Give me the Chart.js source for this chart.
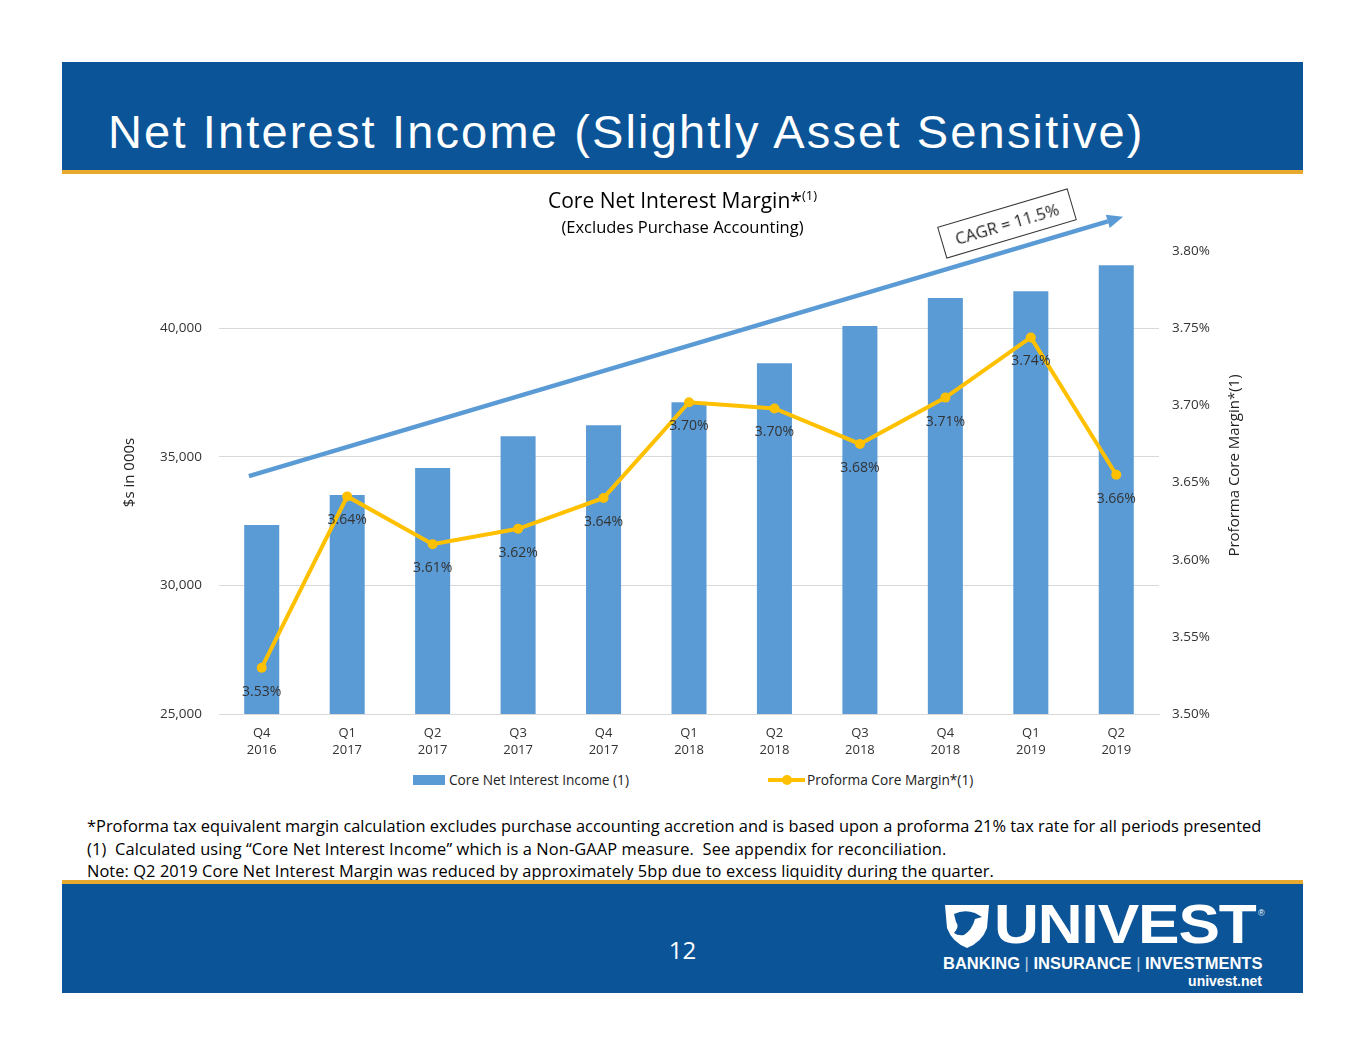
<!DOCTYPE html>
<html><head><meta charset="utf-8">
<script src="https://cdn.jsdelivr.net/npm/chart.js@4.4.1/dist/chart.umd.min.js"></script>
<style>
body{margin:0;background:#fff;width:1365px;height:1055px;position:relative;overflow:hidden;font-family:'Open Sans',sans-serif;}
.abs{position:absolute;white-space:nowrap;}
#hdr{left:62px;top:62px;width:1241px;height:108px;background:#0a5497;border-bottom:4px solid #e8aa2e;}
#ttl{left:46px;top:47px;font:47px/46px 'Liberation Sans',Arial,sans-serif;color:#fff;letter-spacing:2.15px;}
#ftr{left:62px;top:880px;width:1241px;height:109px;background:#0a5497;border-top:4px solid #e8aa2e;}
#pg{left:0;width:1241px;top:54px;text-align:center;color:#fff;font-size:24px;line-height:24px;}
#ctitle{left:0;width:1365px;top:188px;text-align:center;font-size:21px;line-height:24px;color:#000;}
#ctitle sup{font-size:13px;vertical-align:8px;line-height:0;}
#csub{left:0;width:1365px;top:216px;text-align:center;font-size:16.5px;line-height:22px;color:#000;}
#wrap{left:100px;top:207px;width:1170px;height:563px;}
#cagr{left:939px;top:207px;width:134px;height:31px;border:1px solid #333;background:#fff;transform:rotate(-16.5deg);text-align:center;font-size:16.5px;line-height:31px;color:#222;}
#legend{left:0;top:771px;width:1365px;height:20px;font-size:13.7px;color:#222;}
.note{left:87px;font-size:16.4px;line-height:20px;color:#000;}
</style></head>
<body>
<div id="hdr" class="abs"><div id="ttl" class="abs">Net Interest Income (Slightly Asset Sensitive)</div></div>
<div id="wrap" class="abs"><canvas id="c" width="1170" height="563"></canvas></div>
<div id="ctitle" class="abs">Core Net Interest Margin*<sup>(1)</sup></div>
<div id="csub" class="abs">(Excludes Purchase Accounting)</div>
<div id="cagr" class="abs">CAGR = 11.5%</div>
<div id="legend" class="abs"></div>
<div class="abs note" style="top:816px">*Proforma tax equivalent margin calculation excludes purchase accounting accretion and is based upon a proforma 21% tax rate for all periods presented</div>
<div class="abs note" style="top:839px;letter-spacing:0.1px">(1)&nbsp; Calculated using “Core Net Interest Income” which is a Non-GAAP measure.&nbsp; See appendix for reconciliation.</div>
<div class="abs note" style="top:861px;letter-spacing:0.08px">Note: Q2 2019 Core Net Interest Margin was reduced by approximately 5bp due to excess liquidity during the quarter.</div>
<div id="ftr" class="abs">
  <div id="pg" class="abs">12</div>
  <svg class="abs" style="left:880px;top:18px" width="50" height="48" viewBox="0 0 50 48">
    <path d="M3 3 L47 3 L45 26 Q40 40 25 46 Q10 40 5 26 Z" fill="#fff"/>
    <path d="M12 12 Q22 7 33 11 L40 15 L33 17 Q30 28 22 33 Q16 34 12 31 Q18 24 14 20 Z" fill="#0a5497"/>
  </svg>
  <div class="abs" style="left:932px;top:12px;font:bold 56px/56px 'Liberation Sans',Arial,sans-serif;color:#fff;transform:scaleX(1.11);transform-origin:left top;letter-spacing:-1px">UNIVEST</div>
  <div class="abs" style="left:1196px;top:25px;font:9px/9px 'Liberation Sans',Arial;color:#fff">®</div>
  <div class="abs" style="left:881px;top:70px;font:bold 16.5px/18px 'Liberation Sans',Arial,sans-serif;color:#fff;">BANKING <span style="font-weight:normal;opacity:.7">|</span> INSURANCE <span style="font-weight:normal;opacity:.7">|</span> INVESTMENTS</div>
  <div class="abs" style="right:41px;top:89px;font:bold 14px/16px 'Liberation Sans',Arial,sans-serif;color:#fff;">univest.net</div>
</div>
<script>
const categories = [['Q4','2016'],['Q1','2017'],['Q2','2017'],['Q3','2017'],['Q4','2017'],['Q1','2018'],['Q2','2018'],['Q3','2018'],['Q4','2018'],['Q1','2019'],['Q2','2019']];
const coreNetInterestIncome = [32350,33510,34560,35800,36230,37120,38640,40080,41170,41440,42450];
const proformaCoreMargin = [3.530,3.641,3.610,3.620,3.640,3.702,3.698,3.675,3.705,3.744,3.655];
const marginLabels = ['3.53%','3.64%','3.61%','3.62%','3.64%','3.70%','3.70%','3.68%','3.71%','3.74%','3.66%'];
const leftTicks = [25000,30000,35000,40000];
const seriesNames = ['Core Net Interest Income (1)','Proforma Core Margin*(1)'];
const axisTitles = ['$s in 000s','Proforma Core Margin*(1)'];

const BLUE='#5b9bd5', GOLD='#ffc000', FONT="'Open Sans', sans-serif", TXT='#333';

const extrasPlugin = {
  id:'extras',
  afterDatasetsDraw(chart){
    const ctx=chart.ctx, x=chart.scales.x, y=chart.scales.y;
    // CAGR arrow
    const step = x.getPixelForValue(1)-x.getPixelForValue(0);
    const x0 = x.getPixelForValue(0)-0.15*step, y0 = y.getPixelForValue(34250);
    const x1 = x.getPixelForValue(10)+0.08*step, y1 = y.getPixelForValue(44330);
    const ang = Math.atan2(y1-y0,x1-x0), hl=16, hw=7;
    const bx = x1-hl*Math.cos(ang), by = y1-hl*Math.sin(ang);
    ctx.save();
    ctx.strokeStyle=BLUE; ctx.fillStyle=BLUE; ctx.lineWidth=4.5;
    ctx.beginPath(); ctx.moveTo(x0,y0); ctx.lineTo(bx,by); ctx.stroke();
    ctx.beginPath(); ctx.moveTo(x1,y1);
    ctx.lineTo(bx+hw*Math.sin(ang), by-hw*Math.cos(ang));
    ctx.lineTo(bx-hw*Math.sin(ang), by+hw*Math.cos(ang));
    ctx.closePath(); ctx.fill();
    // data labels
    const meta = chart.getDatasetMeta(1);
    ctx.font = "14px "+FONT; ctx.fillStyle=TXT; ctx.textAlign='center'; ctx.textBaseline='middle';
    meta.data.forEach((el,i)=>{ ctx.fillText(marginLabels[i], el.x, el.y+24); });
    ctx.restore();
  },
  afterDraw(chart){
    const ctx=chart.ctx, a=chart.chartArea, yl=chart.scales.y, yr=chart.scales.y1;
    const mid=(a.top+a.bottom)/2;
    ctx.save();
    ctx.font="15px "+FONT; ctx.fillStyle='#222'; ctx.textAlign='center'; ctx.textBaseline='middle';
    ctx.translate(yl.left+30, mid-10); ctx.rotate(-Math.PI/2); ctx.fillText(axisTitles[0],0,0);
    ctx.setTransform(1,0,0,1,0,0);
    ctx.translate(yr.right-35, mid-17); ctx.rotate(-Math.PI/2); ctx.fillText(axisTitles[1],0,0);
    ctx.restore();
  }
};

new Chart(document.getElementById('c'), {
  type:'bar',
  data:{ labels:categories, datasets:[
    {label:seriesNames[0], data:coreNetInterestIncome, backgroundColor:BLUE, yAxisID:'y', barPercentage:0.41, categoryPercentage:1, order:2},
    {type:'line', label:seriesNames[1], data:proformaCoreMargin, yAxisID:'y1', borderColor:GOLD, backgroundColor:GOLD, borderWidth:4, pointRadius:5, pointBackgroundColor:GOLD, pointBorderWidth:0, tension:0, order:1}
  ]},
  options:{
    responsive:false, animation:false,
    layout:{padding:{top:44,left:0,right:0,bottom:0}},
    plugins:{legend:{display:false}, tooltip:{enabled:false}, title:{display:false}},
    scales:{
      x:{ grid:{display:false, drawTicks:false}, border:{display:true,color:'#d9d9d9',width:1},
          ticks:{font:{size:13,family:FONT,lineHeight:1.3}, color:TXT, padding:11, maxRotation:0, autoSkip:false},
          afterFit(s){ s.height=56; } },
      y:{ position:'left', min:25000, max:43000,
          afterBuildTicks(s){ s.ticks = leftTicks.map(v=>({value:v})); },
          grid:{color:'#d9d9d9', drawTicks:false}, border:{display:false},
          ticks:{padding:17, font:{size:13.5,family:FONT}, color:TXT, callback:v=>v.toLocaleString('en-US')},
          afterFit(s){ s.width=119; } },
      y1:{ position:'right', min:3.5, max:3.8,
          grid:{display:false, drawTicks:false}, border:{display:false},
          ticks:{stepSize:0.05, padding:13, font:{size:13.5,family:FONT}, color:TXT, callback:v=>v.toFixed(2)+'%'},
          afterFit(s){ s.width=111; } }
    }
  },
  plugins:[extrasPlugin]
});

// HTML legend built from the series names
const lg = document.getElementById('legend');
lg.innerHTML =
 '<div class="abs" style="left:413px;top:4px;width:32px;height:10px;background:'+BLUE+'"></div>'+
 '<div class="abs" style="left:449px;top:0;line-height:18px">'+seriesNames[0]+'</div>'+
 '<div class="abs" style="left:768px;top:7px;width:37px;height:4px;background:'+GOLD+'"></div>'+
 '<div class="abs" style="left:782px;top:4px;width:10px;height:10px;border-radius:50%;background:'+GOLD+'"></div>'+
 '<div class="abs" style="left:807px;top:0;line-height:18px">'+seriesNames[1]+'</div>';
</script>
</body></html>
